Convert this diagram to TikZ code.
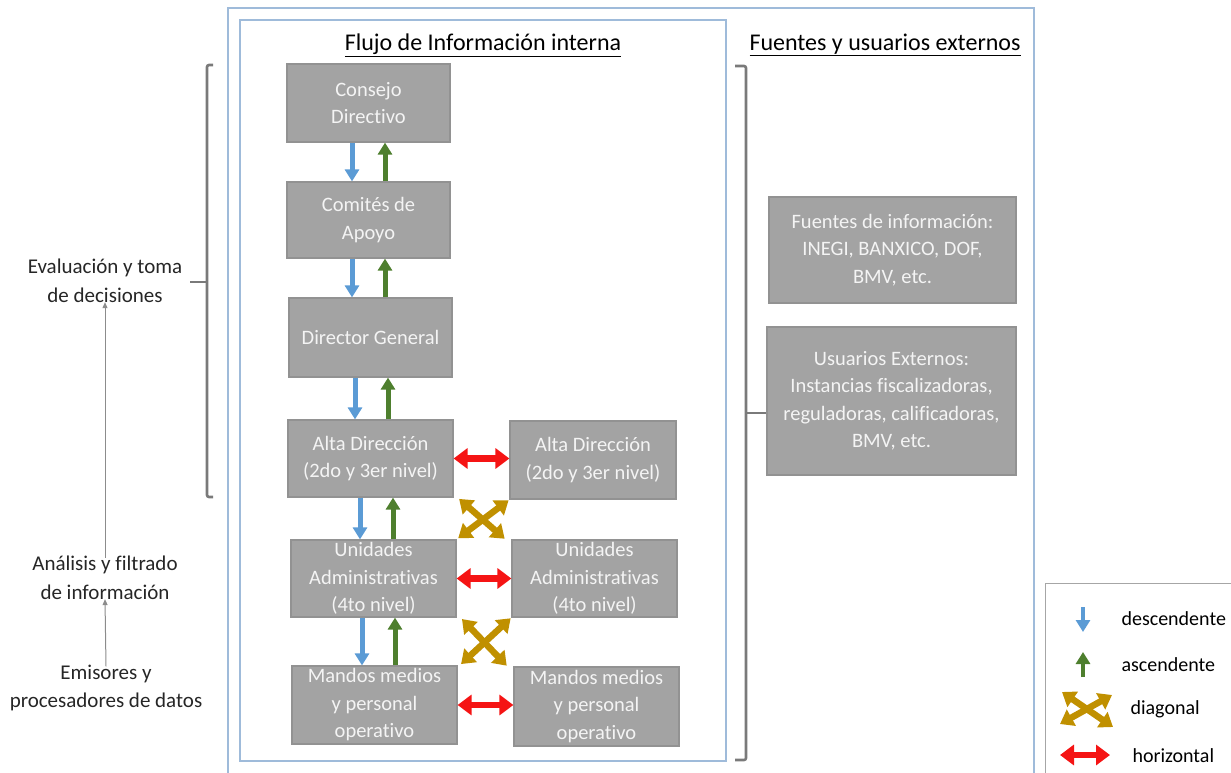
\documentclass[tikz,border=0pt]{standalone}
\usepackage{fontspec}
\setmainfont{Carlito}[Ligatures={NoCommon}]
\usetikzlibrary{arrows.meta}
\definecolor{frame}{HTML}{9FBBDA}
\definecolor{boxfill}{HTML}{A3A3A3}
\definecolor{boxline}{HTML}{929292}
\definecolor{boxtext}{HTML}{F4F4F4}
\definecolor{bracket}{HTML}{7A7A7A}
\definecolor{dblue}{HTML}{5B9BD5}
\definecolor{dgreen}{HTML}{4E7F2E}
\definecolor{dgold}{HTML}{C09000}
\definecolor{dred}{HTML}{F51414}
\definecolor{sidetext}{HTML}{262626}
\tikzset{
  box/.style={draw=boxline, line width=1.2pt, fill=boxfill, text=boxtext, align=center,
    font=\fontsize{20.5}{27.5}\selectfont, inner sep=0pt},
  downarr/.style={draw=dblue, line width=5pt, -{Triangle[width=14pt,length=12pt]}},
  uparr/.style={draw=dgreen, line width=5pt, -{Triangle[width=14pt,length=12pt]}},
  diagarr/.style={draw=dgold, line width=6.5pt, {Triangle[width=18pt,length=13pt]}-{Triangle[width=18pt,length=13pt]}},
  horarr/.style={draw=dred, line width=6.5pt, {Triangle[width=20pt,length=14pt]}-{Triangle[width=20pt,length=14pt]}},
  side/.style={text=sidetext, align=center, font=\fontsize{21}{28.5}\selectfont},
  title/.style={text=black, font=\fontsize{24}{28}\selectfont},
  legtxt/.style={text=black, font=\fontsize{20}{22}\selectfont, anchor=west},
  brk/.style={draw=bracket, line width=2.6pt, rounded corners=2pt},
  gline/.style={draw=black!45, line width=1pt, -{Triangle[width=5pt,length=6pt]}}
}
\begin{document}
\begin{tikzpicture}[x=1pt,y=-1pt]
\useasboundingbox (0,0) rectangle (1231,773);
% frames
\draw[frame, line width=1.5pt] (228,8) rectangle (1034,790);
\draw[frame, line width=1.5pt] (240,20) rectangle (726,761);
% titles
\node[title] (t1) at (483,45) {\underline{Flujo de Información interna}};
\node[title] (t2) at (885,45) {\underline{Fuentes y usuarios externos}};
% internal boxes
\node[box, minimum width=163, minimum height=78] (cd) at (368.5,103) {Consejo\\Directivo};
\node[box, minimum width=163, minimum height=76] (ca) at (368.5,220) {Comités de\\Apoyo};
\node[box, minimum width=163, minimum height=79] (dg) at (370.5,337.5) {Director General};
\node[box, minimum width=165, minimum height=77] (al) at (370.5,458.5) {Alta Dirección\\(2do y 3er nivel)};
\node[box, minimum width=166, minimum height=78] (ar) at (593,460) {Alta Dirección\\(2do y 3er nivel)};
\node[box, minimum width=165, minimum height=77] (ul) at (373.5,578.5) {Unidades\\Administrativas\\(4to nivel)};
\node[box, minimum width=165, minimum height=77] (ur) at (594.5,578.5) {Unidades\\Administrativas\\(4to nivel)};
\node[box, minimum width=165, minimum height=78] (ml) at (374.5,705) {Mandos medios\\y personal\\operativo};
\node[box, minimum width=165, minimum height=79] (mr) at (596.5,706.5) {Mandos medios\\y personal\\operativo};
% external boxes
\node[box, minimum width=247, minimum height=106] (fu) at (892.5,250) {Fuentes de información:\\INEGI, BANXICO, DOF,\\BMV, etc.};
\node[box, minimum width=249, minimum height=148] (us) at (891.5,401) {Usuarios Externos:\\Instancias fiscalizadoras,\\reguladoras, calificadoras,\\BMV, etc.};
% vertical arrows
\draw[downarr] (cd.south -| 352,0) -- (ca.north -| 352,0);
\draw[uparr] (ca.north -| 385,0) -- (cd.south -| 385,0);
\draw[downarr] (ca.south -| 352,0) -- (dg.north -| 352,0);
\draw[uparr] (dg.north -| 385,0) -- (ca.south -| 385,0);
\draw[downarr] (dg.south -| 355,0) -- (al.north -| 355,0);
\draw[uparr] (al.north -| 388,0) -- (dg.south -| 388,0);
\draw[downarr] (al.south -| 360,0) -- (ul.north -| 360,0);
\draw[uparr] (ul.north -| 393,0) -- (al.south -| 393,0);
\draw[downarr] (ul.south -| 362,0) -- (ml.north -| 362,0);
\draw[uparr] (ml.north -| 395,0) -- (ul.south -| 395,0);
% horizontal arrows
\draw[horarr] (al.east) -- (al.east -| ar.west);
\draw[horarr] (ul.east) -- (ul.east -| ur.west);
\draw[horarr] (ml.east) -- (ml.east -| mr.west);
% diagonal arrows
\draw[diagarr, shorten <=2pt, shorten >=1pt] ([xshift=4]al.south east) -- ([xshift=-6]ur.north west);
\draw[diagarr, shorten <=1pt, shorten >=2pt] (ar.south west) -- (ul.north east);
\draw[diagarr, shorten <=2pt, shorten >=1pt] ([xshift=4]ul.south east) -- ([xshift=-6]mr.north west);
\draw[diagarr, shorten <=1pt, shorten >=2pt] (ur.south west) -- ([xshift=2]ml.north east);
% left bracket
\draw[brk] (213,65) -- (207,65) -- (207,497) -- (213,497);
\draw[brk] (207,282) -- (190,282);
% right brace
\draw[brk] (735,66) -- (746,66) -- (746,760) -- (735,760);
\draw[brk] (746,413) -- (us.west |- 0,413);
% left texts
\node[side] (ev) at (105,281) {Evaluación y toma\\de decisiones};
\node[side] (an) at (105,578) {Análisis y filtrado\\de información};
\node[side] (em) at (106,688) {Emisores y\\procesadores de datos};
\draw[gline] ([yshift=-5]an.north) -- ([yshift=4]ev.south);
\draw[gline] ([yshift=-5]em.north) -- ([yshift=4]an.south);
% legend
\draw[draw=black!35, line width=1pt] (1045,583) rectangle (1245,790);
\coordinate (l1a) at (1083,607); \coordinate (l1b) at (1083,632);
\draw[downarr, line width=4.5pt] (l1a) -- (l1b);
\node[legtxt] (lt1) at (1118,619) {descendente};
\coordinate (l2a) at (1083,677); \coordinate (l2b) at (1083,652);
\draw[uparr, line width=4.5pt] (l2a) -- (l2b);
\node[legtxt] (lt2) at (1118,665) {ascendente};
\coordinate (l3a) at (1062,692); \coordinate (l3b) at (1113,727);
\coordinate (l3c) at (1112,695); \coordinate (l3d) at (1060,724);
\draw[diagarr] (l3a) -- (l3b);
\draw[diagarr] (l3c) -- (l3d);
\node[legtxt] (lt3) at (1127,709) {diagonal};
\coordinate (l4a) at (1060,755); \coordinate (l4b) at (1110,755);
\draw[horarr] (l4a) -- (l4b);
\node[legtxt] (lt4) at (1129,756) {horizontal};
\end{tikzpicture}
\end{document}
